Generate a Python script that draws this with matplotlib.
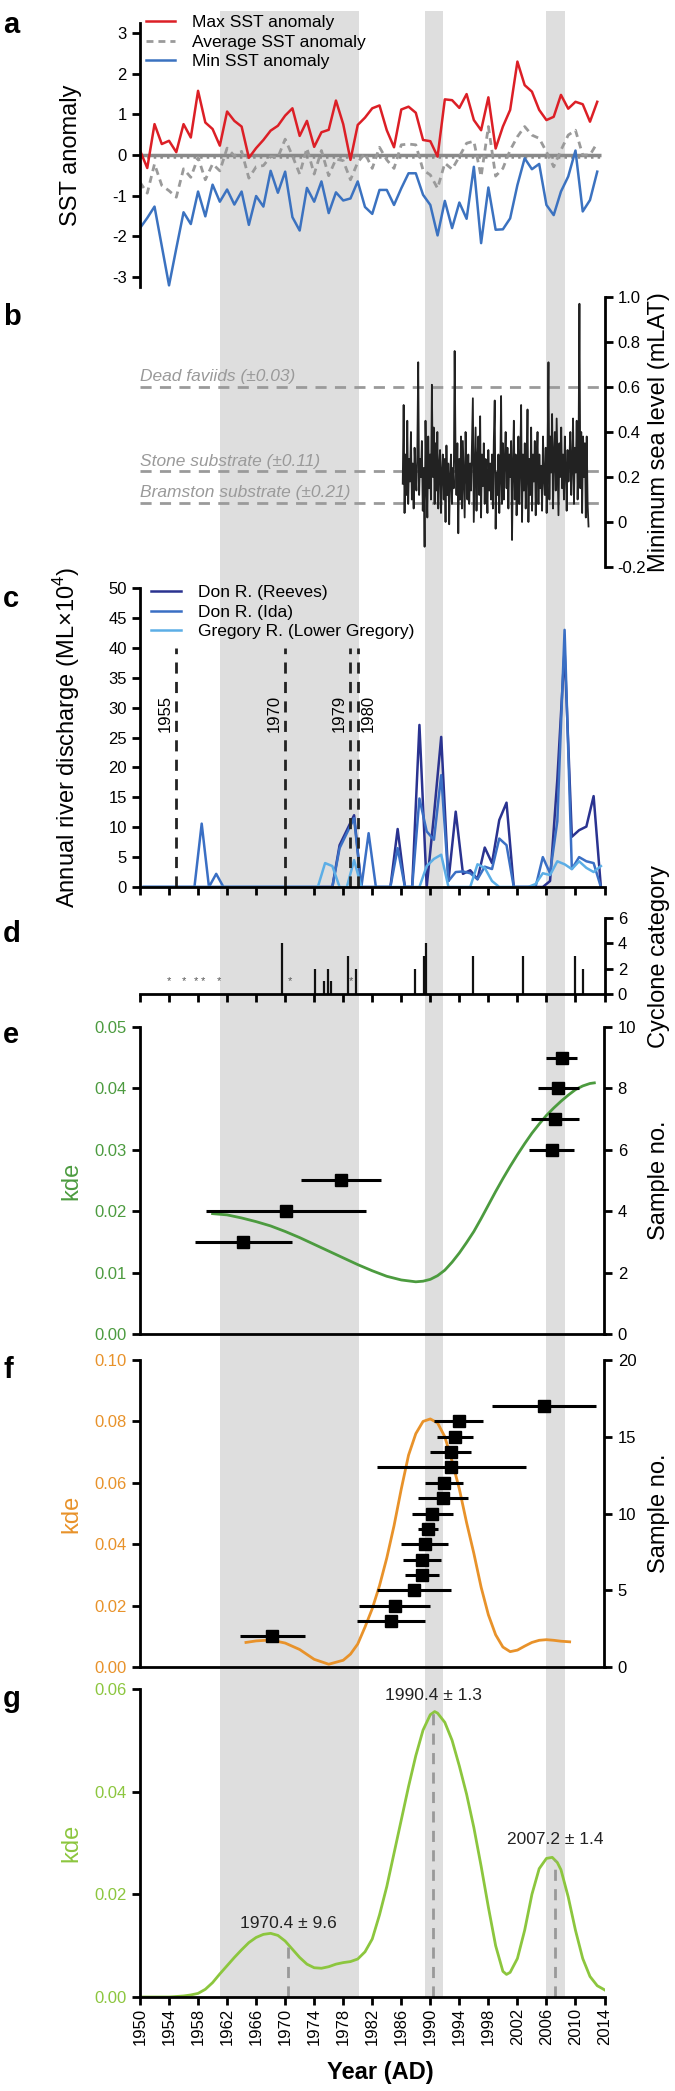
import matplotlib.pyplot as plt
import numpy as np

plt.rcParams['font.family'] = ['Liberation Sans', 'DejaVu Sans']
plt.rcParams['mathtext.fontset'] = 'custom'
plt.rcParams['mathtext.rm'] = 'Liberation Sans'
plt.rcParams['axes.unicode_minus'] = False

# ---------------- data ----------------
# shaded periods
bands = [(1961.05, 1980.2), (1989.25, 1991.8), (2006.0, 2008.6)]

# a: SST anomalies 1950-2013
sst_years = list(range(1950, 2014))
sst_max = [0.11, -0.32, 0.76, 0.27, 0.35, 0.07, 0.76, 0.43, 1.58, 0.80,
           0.64, 0.23, 1.07, 0.84, 0.70, -0.07, 0.17, 0.37, 0.60, 0.72,
           0.97, 1.15, 0.47, 0.84, 0.20, 0.56, 0.62, 1.34, 0.76, -0.12,
           0.74, 0.92, 1.15, 1.22, 0.61, 0.19, 1.12, 1.19, 1.04, 0.37,
           0.34, -0.04, 1.37, 1.35, 1.16, 1.50, 0.86, 0.61, 1.42, 0.16,
           0.70, 1.11, 2.30, 1.72, 1.56, 1.11, 0.86, 0.94, 1.48, 1.14,
           1.31, 1.25, 0.82, 1.31]
sst_avg = [-0.67, -0.94, -0.22, -0.75, -0.88, -1.04, -0.34, -0.55, -0.06, -0.61,
           -0.22, -0.39, 0.17, -0.02, 0.09, -0.57, -0.29, -0.26, -0.04, -0.06,
           0.39, -0.02, -0.47, 0.17, -0.47, 0.11, -0.51, -0.10, -0.14, -0.61,
           -0.18, 0.04, -0.33, 0.19, -0.12, -0.33, 0.25, 0.27, 0.25, -0.37,
           -0.49, -0.82, -0.20, -0.35, -0.04, 0.29, 0.34, -0.53, 0.70, -0.52,
           -0.33, 0.12, 0.45, 0.70, 0.49, 0.41, 0.08, -0.29, 0.12, 0.49,
           0.61, 0.00, 0.00, 0.30]
sst_min = [-1.80, -1.55, -1.27, -2.24, -3.21, -2.30, -1.41, -1.70, -0.90, -1.51,
           -0.73, -1.15, -0.85, -1.22, -0.90, -1.72, -1.01, -1.27, -0.39, -0.93,
           -0.41, -1.53, -1.86, -0.81, -1.15, -0.65, -1.43, -0.92, -1.12, -1.07,
           -0.65, -1.28, -1.45, -0.86, -0.86, -1.23, -0.82, -0.45, -0.45, -0.98,
           -1.23, -1.98, -1.13, -1.80, -1.17, -1.57, -0.29, -2.17, -0.80, -1.84,
           -1.83, -1.56, -0.74, -0.08, -0.35, -0.22, -1.23, -1.48, -0.90, -0.53,
           0.11, -1.39, -1.11, -0.41]

# b: minimum sea level, 1986.2-2011.8
sea_start, sea_end = 1986.2, 2011.8
sea_level = [
    0.17, 0.52, 0.04, 0.30, 0.12, 0.45, 0.08, 0.28,
    0.18, 0.40, 0.10, 0.26, 0.06, 0.33, 0.22, 0.14,
    0.30, 0.71, 0.12, 0.28, 0.20, 0.36, 0.05, 0.24,
    -0.11, 0.45, 0.18, 0.02, 0.38, 0.15, 0.30, 0.10,
    0.61, 0.20, 0.42, 0.08, 0.35, 0.14, 0.40, 0.06,
    0.25, 0.32, 0.04, 0.22, 0.30, 0.10, 0.28, 0.00,
    0.34, 0.12, 0.26, -0.01, 0.20, 0.30, 0.08, 0.24,
    0.15, 0.76, 0.30, 0.12, 0.35, -0.05, 0.28, 0.10,
    0.38, 0.06, 0.36, 0.18, 0.02, 0.40, 0.22, 0.10,
    0.30, 0.08, 0.26, 0.14, 0.35, 0.55, 0.00, 0.20,
    0.42, 0.05, 0.28, 0.38, 0.12, 0.47, 0.02, 0.30,
    0.16, 0.35, 0.08, 0.28, 0.20, 0.04, 0.32, 0.14,
    0.26, 0.10, 0.30, 0.06, 0.36, 0.54, -0.03, 0.22,
    0.12, 0.30, 0.04, 0.20, 0.56, 0.08, 0.35, 0.10,
    0.28, 0.40, 0.15, 0.33, 0.06, 0.30, 0.20, 0.36,
    -0.08, 0.25, 0.45, 0.10, 0.30, 0.03, 0.22, 0.38,
    0.08, 0.26, 0.52, 0.00, 0.30, 0.14, 0.35, 0.06,
    0.22, 0.50, 0.00, 0.28, 0.12, 0.42, 0.05, 0.30,
    0.18, 0.36, 0.03, 0.26, 0.40, 0.08, 0.30, 0.15,
    0.25, 0.05, 0.38, 0.20, 0.12, 0.33, 0.04, 0.28,
    0.71, 0.10, 0.38, 0.22, 0.48, 0.06, 0.30, 0.40,
    0.14, 0.46, 0.25, 0.03, 0.35, 0.20, 0.42, 0.15,
    0.30, 0.10, 0.38, 0.24, 0.05, 0.32, 0.18, 0.28,
    0.40, 0.12, 0.26, 0.46, 0.08, 0.33, 0.22, 0.45,
    0.10, 0.30, 0.97, 0.15, 0.40, 0.04, 0.38, 0.20,
    0.35, 0.02, 0.38, 0.08, -0.02]
substrates = ['Dead faviids (±0.03)', 'Stone substrate (±0.11)', 'Bramston substrate (±0.21)']
substrate_level = [0.6, 0.225, 0.085]

# c: annual river discharge (ML x 10^4), water years 1950-2013
river_years = list(range(1950, 2014))
don_reeves = [0] * 27 + [7.0, 9.5, 12.0, 0, 0, 0, 0, 0, 9.7, 0, 0, 27.1, 0,
                         12.0, 25.1, 1.0, 12.6, 2.2, 2.8, 1.3, 6.6, 4.0, 11.2,
                         14.1, 0, 0, 0, 0, 0, 1.0, 18.0, 39.7, 8.4, 9.5, 10.1,
                         15.2, 0]
don_ida = [0] * 8 + [10.6, 0, 2.2] + [0] * 16 + [6.5, 9.0, 11.5, 0, 9.0, 0, 0, 0,
                                                 6.5, 0, 0, 14.8, 9.3, 7.9, 18.7,
                                                 1.0, 2.5, 2.6, 2.3, 1.3, 3.4, 3.0,
                                                 8.1, 7.0, 0, 0, 0, 0, 5.0, 2.3,
                                                 11.0, 43.0, 3.0, 5.0, 4.3, 4.0, 0]
gregory = [0] * 25 + [4.0, 3.5, 0, 0, 4.5] + [0] * 9 + [3.5, 4.7, 5.4, 0, 0, 0, 0,
                                                      3.8, 3.2, 1.0, 0, 0, 0, 0, 0,
                                                      0.5, 2.3, 2.0, 4.3, 3.8, 3.0,
                                                      4.3, 3.2, 2.5, 3.5]
flood_years = [1955, 1970, 1979, 1980]

# d: cyclones
cyclone_years = [1969.5, 1974.1, 1975.35, 1975.9, 1976.3, 1978.7, 1979.8,
                 1987.9, 1989.1, 1989.4, 1995.9, 2002.8, 2010.0, 2011.0]
cyclone_cat = [4, 2, 1, 2, 1, 3, 2, 2, 3, 4, 3, 3, 3, 2]
cyclone_star_years = [1954.0, 1956.0, 1957.7, 1958.7, 1960.9, 1970.7, 1979.1]

# e: samples and kde
e_age = [1964.25, 1970.15, 1977.7, 2006.7, 2007.2, 2007.65, 2008.1]
e_err = [6.65, 11.05, 5.5, 3.1, 3.3, 2.85, 2.15]
e_no = [3, 4, 5, 6, 7, 8, 9]
e_kde_years = [1960, 1962, 1964, 1966, 1968, 1970, 1972, 1974, 1976, 1978, 1980,
               1982, 1984, 1986, 1988, 1989, 1990, 1991, 1992, 1993, 1994, 1995,
               1996, 1997, 1998, 1999, 2000, 2001, 2002, 2003, 2004, 2005, 2006,
               2007, 2008, 2009, 2010, 2011, 2012, 2012.6]
e_kde = [0.0196, 0.0194, 0.0189, 0.0183, 0.0176, 0.0167, 0.0157, 0.0146, 0.0135,
         0.0124, 0.0113, 0.0103, 0.0094, 0.0088, 0.0085, 0.0086, 0.0089, 0.0095,
         0.0104, 0.0117, 0.0132, 0.0149, 0.0167, 0.0188, 0.0210, 0.0232, 0.0253,
         0.0273, 0.0292, 0.0310, 0.0327, 0.0342, 0.0356, 0.0368, 0.0379, 0.0389,
         0.0398, 0.0404, 0.0408, 0.0409]

# f: samples and kde
f_no = list(range(2, 18))
f_age = [1968.25, 1984.55, 1985.1, 1987.7, 1988.85, 1988.9, 1989.2, 1989.7,
         1990.3, 1991.8, 1991.9, 1992.9, 1992.8, 1993.4, 1993.9, 2005.65]
f_err = [4.45, 4.65, 4.9, 5.1, 2.35, 2.6, 3.2, 1.4, 2.8, 3.45, 2.65, 10.3,
         2.8, 2.5, 3.4, 7.15]
f_kde_years = [1964.6, 1966, 1968, 1970, 1972, 1974, 1976, 1978, 1979, 1980, 1981,
               1982, 1983, 1984, 1985, 1986, 1987, 1988, 1989, 1990, 1991, 1992,
               1993, 1994, 1995, 1996, 1997, 1998, 1999, 2000, 2001, 2002, 2003,
               2004, 2005, 2006, 2007, 2008, 2009.2]
f_kde = [0.0080, 0.0085, 0.0088, 0.0078, 0.0057, 0.0025, 0.0009, 0.0022, 0.0042,
         0.0075, 0.0130, 0.0190, 0.0265, 0.0355, 0.0460, 0.0580, 0.0690, 0.0760,
         0.0800, 0.0808, 0.0795, 0.0750, 0.0670, 0.0580, 0.0470, 0.0370, 0.0260,
         0.0170, 0.0105, 0.0065, 0.0050, 0.0055, 0.0068, 0.0080, 0.0087, 0.0089,
         0.0087, 0.0084, 0.0082]

# g: combined kde
g_kde_years = [1950, 1952, 1954, 1956, 1957, 1958, 1959, 1960, 1961, 1962, 1963,
               1964, 1965, 1966, 1967, 1968, 1969, 1970, 1971, 1972, 1973, 1974,
               1975, 1976, 1977, 1978, 1979, 1980, 1981, 1982, 1983, 1984, 1985,
               1986, 1987, 1988, 1989, 1990, 1990.6, 1991, 1992, 1993, 1994, 1995,
               1996, 1997, 1998, 1999, 2000, 2000.5, 2001, 2002, 2003, 2004, 2005,
               2006, 2006.8, 2007.5, 2008, 2009, 2010, 2011, 2012, 2013, 2014]
g_kde = [0.0, 0.0, 0.0, 0.0002, 0.0004, 0.0007, 0.0015, 0.0028, 0.0045, 0.0061,
         0.0077, 0.0092, 0.0106, 0.0116, 0.0122, 0.0124, 0.0120, 0.0109, 0.0093,
         0.0077, 0.0064, 0.0057, 0.0056, 0.0059, 0.0064, 0.0067, 0.0069, 0.0074,
         0.0088, 0.0113, 0.0160, 0.0215, 0.0280, 0.0345, 0.0410, 0.0470, 0.0520,
         0.0550, 0.0556, 0.0553, 0.0535, 0.0500, 0.0450, 0.0395, 0.0330, 0.0255,
         0.0175, 0.0100, 0.0050, 0.0044, 0.0048, 0.0075, 0.0130, 0.0200, 0.0250,
         0.0270, 0.0272, 0.0262, 0.0248, 0.0195, 0.0130, 0.0075, 0.0040, 0.0022,
         0.0014]
g_peaks = [1970.4, 1990.4, 2007.2]
g_peak_err = [9.6, 1.3, 1.4]

# ---------------- figure ----------------
H = 2091.0
fig = plt.figure(figsize=(6.75, 20.91), dpi=100)
XT = list(range(1950, 2015, 4))


def axes_at(top, bottom):
    # top / bottom in pixels from the top of the figure
    return fig.add_axes([140 / 675, 1 - bottom / H, 464.5 / 675, (bottom - top) / H])


def style(ax, spines):
    ax.set_facecolor('none')
    for k in ['left', 'right', 'top', 'bottom']:
        ax.spines[k].set_visible(k in spines)
        ax.spines[k].set_linewidth(2)
    ax.tick_params(width=2, length=6, labelsize=12, direction='out')
    ax.set_xlim(1950, 2014)
    if 'bottom' in spines:
        ax.set_xticks(XT)
        ax.set_xticklabels([])
    else:
        ax.set_xticks([])


# grey bands behind everything
bg = axes_at(11, 1997)
bg.set_xlim(1950, 2014)
bg.axis('off')
for s, e in bands:
    bg.axvspan(s, e, color='#dedede', lw=0)

YL = 17
LX, RX = -0.125, 1.094

# a
ax = axes_at(23, 287)
style(ax, ['left'])
ax.hlines(0, 1950, 2013.5, color='#8a8a8a', lw=2.5)
ax.hlines(-0.05, 1950, 2013.5, color='#8a8a8a', lw=1.8, linestyles=':')
ax.plot(sst_years, sst_max, color='#dc1f26', lw=1.8, label='Max SST anomaly')
ax.plot(sst_years, sst_avg, color='#9a9a9a', lw=2, ls=(0, (2.5, 1.8)), label='Average SST anomaly')
ax.plot(sst_years, sst_min, color='#3b72c0', lw=1.8, label='Min SST anomaly')
ax.set_ylim(-3.25, 3.25)
ax.set_yticks([-3, -2, -1, 0, 1, 2, 3])
ax.set_ylabel('SST anomaly', fontsize=YL)
ax.yaxis.set_label_coords(LX, 0.5)
ax.legend(loc='upper left', bbox_to_anchor=(0.012, 1.03), frameon=False, fontsize=12.5,
          borderaxespad=0, borderpad=0, labelspacing=0.25, handlelength=1.7, handletextpad=1.0)

# b
ax = axes_at(297, 567)
style(ax, ['right'])
for name, lev in zip(substrates, substrate_level):
    ax.axhline(lev, color='#9a9a9a', lw=2, ls=(0, (4, 3)))
    ax.text(1950, lev + 0.012, name, color='#9a9a9a', style='italic', fontsize=12.5,
            ha='left', va='bottom')
ax.plot(np.linspace(sea_start, sea_end, len(sea_level)), sea_level, color='#222222', lw=1.3)
ax.set_ylim(-0.2, 1.0)
ax.set_yticks([-0.2, 0, 0.2, 0.4, 0.6, 0.8, 1.0])
ax.set_yticklabels(['-0.2', '0', '0.2', '0.4', '0.6', '0.8', '1.0'])
ax.yaxis.tick_right()
ax.yaxis.set_label_position('right')
ax.set_ylabel('Minimum sea level (mLAT)', fontsize=YL)
ax.yaxis.set_label_coords(RX, 0.5)

# c
ax = axes_at(588, 887)
style(ax, ['left', 'bottom'])
ry = np.array(river_years) + 0.5
ax.plot(ry, don_reeves, color='#2a3390', lw=1.8, label='Don R. (Reeves)')
ax.plot(ry, don_ida, color='#3a6fc4', lw=1.8, label='Don R. (Ida)')
ax.plot(ry, gregory, color='#5caee6', lw=1.8, label='Gregory R. (Lower Gregory)')
ax.vlines(flood_years, 0, 40, color='#222222', lw=2, linestyles=(0, (4, 3)))
for yr in flood_years:
    if yr == 1980:
        ax.text(yr + 0.45, 29, str(yr), rotation=90, fontsize=12, ha='left', va='center')
    else:
        ax.text(yr - 0.45, 29, str(yr), rotation=90, fontsize=12, ha='right', va='center')
ax.set_ylim(0, 50)
ax.set_yticks(range(0, 51, 5))
ax.set_ylabel('Annual river discharge (ML×10$^4$)', fontsize=YL)
ax.yaxis.set_label_coords(LX, 0.5)
ax.legend(loc='upper left', bbox_to_anchor=(0.024, 1.01), frameon=False, fontsize=12.5,
          borderaxespad=0, borderpad=0, labelspacing=0.25, handlelength=1.7, handletextpad=1.0)

# d
ax = axes_at(918, 994)
style(ax, ['right', 'bottom'])
ax.vlines(cyclone_years, 0, cyclone_cat, color='#111111', lw=1.6)
for yr in cyclone_star_years:
    ax.text(yr, 1.0, '*', fontsize=8, color='#555555', ha='center', va='center')
ax.set_ylim(0, 6)
ax.set_yticks([0, 2, 4, 6])
ax.yaxis.tick_right()
ax.yaxis.set_label_position('right')
ax.set_ylabel('Cyclone category', fontsize=YL)
ax.yaxis.set_label_coords(RX, 0.5)


def kde_panel(top, bottom, years, kde, col, ymax, yt, fmt, rmax, rt, ages, err, nos):
    ax = axes_at(top, bottom)
    style(ax, ['left', 'bottom'])
    ax.plot(years, kde, color=col, lw=2)
    ax.set_ylim(0, ymax)
    ax.set_yticks(yt)
    ax.set_yticklabels([fmt % v for v in yt], color=col)
    ax.set_ylabel('kde', fontsize=YL, color=col)
    ax.yaxis.set_label_coords(LX, 0.5)
    ax2 = ax.twinx()
    style(ax2, ['right'])
    ax2.errorbar(ages, nos, xerr=err, fmt='s', color='black', ms=8.5,
                 elinewidth=2.2, capsize=0)
    ax2.set_ylim(0, rmax)
    ax2.set_yticks(rt)
    ax2.set_ylabel('Sample no.', fontsize=YL)
    ax2.yaxis.set_label_coords(RX, 0.5)
    return ax


# e
kde_panel(1027, 1334, e_kde_years, e_kde, '#4c9b3f', 0.05,
          [0, 0.01, 0.02, 0.03, 0.04, 0.05], '%.2f', 10, [0, 2, 4, 6, 8, 10],
          e_age, e_err, e_no)

# f
kde_panel(1360, 1667, f_kde_years, f_kde, '#e8922a', 0.10,
          [0, 0.02, 0.04, 0.06, 0.08, 0.10], '%.2f', 20, [0, 5, 10, 15, 20],
          f_age, f_err, f_no)

# g
ax = axes_at(1689, 1997)
style(ax, ['left', 'bottom'])
gcol = '#8cc63e'
ax.plot(g_kde_years, g_kde, color=gcol, lw=2)
tops = np.interp(g_peaks, g_kde_years, g_kde)
ax.vlines(g_peaks, 0, tops, color='#999999', lw=2, linestyles=(0, (4, 3)))
label_y = [0.0144, 0.0588, 0.0306]
for p, e, ly in zip(g_peaks, g_peak_err, label_y):
    ax.text(p, ly, '%.1f ± %.1f' % (p, e), fontsize=12.5, ha='center', va='center', color='#222222')
ax.set_ylim(0, 0.06)
ax.set_yticks([0, 0.02, 0.04, 0.06])
ax.set_yticklabels(['0.00', '0.02', '0.04', '0.06'], color=gcol)
ax.set_ylabel('kde', fontsize=YL, color=gcol)
ax.yaxis.set_label_coords(LX, 0.5)
ax.set_xticklabels([str(v) for v in XT], rotation=90)
ax.tick_params(axis='x', pad=2)
fig.text((140 + 240) / 675, 1 - 2073 / H, 'Year (AD)', fontsize=17, fontweight='bold',
         ha='center', va='center')

# panel letters
for letter, top in zip('abcdefg', [11, 303, 585, 920, 1021, 1356, 1685]):
    fig.text(3 / 675, 1 - top / H, letter, fontsize=21, fontweight='bold', va='top')

plt.savefig('out.png', dpi=100)
